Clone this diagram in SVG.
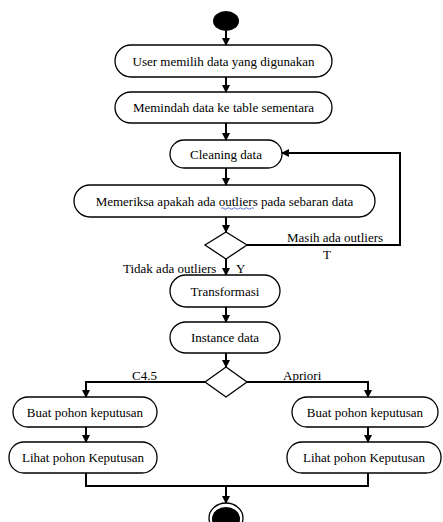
<svg xmlns="http://www.w3.org/2000/svg" width="443" height="522" viewBox="0 0 443 522">
  <style>
    text { font-family: "Liberation Serif", "Times New Roman", Times, serif; font-size: 13px; fill: #000; }
    .act rect { fill: #fff; stroke: #000; stroke-width: 1.3; }
    .act text { text-anchor: middle; }
    .dec polygon { fill: #fff; stroke: #000; stroke-width: 1.3; }
    #connectors path { fill: none; stroke: #000; stroke-width: 2; }
  </style>
  <defs>
    <marker id="arrow" viewBox="0 0 8 8" refX="7" refY="4" markerWidth="4" markerHeight="4" orient="auto" markerUnits="strokeWidth">
      <path d="M0,0 L8,4 L0,8 Z" fill="#000"/>
    </marker>
  </defs>
  <rect width="443" height="522" fill="#fff"/>

  <!-- start -->
  <g id="start"><ellipse cx="226" cy="21" rx="13" ry="10" fill="#000"/></g>

  <g id="pilih-data" class="act">
    <rect x="115" y="45" width="217" height="32" rx="16"/>
    <text x="223.5" y="66">User memilih data yang digunakan</text>
  </g>
  <g id="pindah-data" class="act">
    <rect x="115" y="92" width="217" height="31" rx="16"/>
    <text x="223.5" y="112">Memindah data ke table sementara</text>
  </g>
  <g id="cleaning" class="act">
    <rect x="170" y="140" width="112" height="28" rx="14"/>
    <text x="226" y="158.5">Cleaning data</text>
  </g>
  <g id="periksa" class="act">
    <rect x="74" y="185" width="301" height="32" rx="16"/>
    <text x="224.5" y="205.5">Memeriksa apakah ada outliers pada sebaran data</text>
    <!-- spell-check squiggle under "outliers" -->
    <path d="M221,208.5 q1.5,-1.5 3,0 t3,0 t3,0 t3,0 t3,0 t3,0 t3,0 t3,0 t3,0 t3,0 t3,0" fill="none" stroke="#3b4fc4" stroke-width="0.8"/>
  </g>
  <g id="cek-outlier" class="dec">
    <polygon points="226,232 247,245 226,259 205,245"/>
  </g>
  <g id="transformasi" class="act">
    <rect x="170" y="275" width="110" height="32" rx="16"/>
    <text x="225" y="295.5">Transformasi</text>
  </g>
  <g id="instance" class="act">
    <rect x="170" y="322" width="110" height="31" rx="16"/>
    <text x="225" y="342">Instance data</text>
  </g>
  <g id="pilih-metode" class="dec">
    <polygon points="226,367 247,382 226,397 205,382"/>
  </g>
  <g id="buat-c45" class="act">
    <rect x="13" y="397" width="144" height="30" rx="15"/>
    <text x="85" y="416.5">Buat pohon keputusan</text>
  </g>
  <g id="lihat-c45" class="act">
    <rect x="9" y="442" width="148" height="31" rx="15"/>
    <text x="83" y="462">Lihat pohon Keputusan</text>
  </g>
  <g id="buat-apriori" class="act">
    <rect x="292" y="397" width="146" height="30" rx="15"/>
    <text x="365" y="416.5">Buat pohon keputusan</text>
  </g>
  <g id="lihat-apriori" class="act">
    <rect x="287" y="442" width="154" height="31" rx="15"/>
    <text x="364" y="462">Lihat pohon Keputusan</text>
  </g>

  <!-- end -->
  <g id="end">
    <ellipse cx="226" cy="518" rx="17" ry="15" fill="#fff" stroke="#000" stroke-width="1.3"/>
    <ellipse cx="226" cy="519" rx="14" ry="12" fill="#000"/>
  </g>

  <g id="connectors">
    <path d="M226,31 V45" marker-end="url(#arrow)"/>
    <path d="M226,77 V92" marker-end="url(#arrow)"/>
    <path d="M226,123 V140" marker-end="url(#arrow)"/>
    <path d="M226,168 V185" marker-end="url(#arrow)"/>
    <path d="M226,217 V232" marker-end="url(#arrow)"/>
    <path d="M226,259 V275" marker-end="url(#arrow)"/>
    <path d="M226,307 V322" marker-end="url(#arrow)"/>
    <path d="M226,353 V367" marker-end="url(#arrow)"/>
    <path d="M247,245 H400 V153 H282" marker-end="url(#arrow)"/>
    <path d="M205,382 H86 V397" marker-end="url(#arrow)"/>
    <path d="M247,382 H368 V397" marker-end="url(#arrow)"/>
    <path d="M86,427 V442" marker-end="url(#arrow)"/>
    <path d="M368,427 V442" marker-end="url(#arrow)"/>
    <path d="M86,473 V486 H368 V473"/>
    <path d="M226,486 V503" marker-end="url(#arrow)"/>
  </g>

  <g id="labels">
    <text x="287" y="242">Masih ada outliers</text>
    <text x="323" y="259">T</text>
    <text x="123" y="273">Tidak ada outliers</text>
    <text x="236" y="273">Y</text>
    <text x="132" y="380">C4.5</text>
    <text x="283" y="380">Apriori</text>
  </g>
</svg>
